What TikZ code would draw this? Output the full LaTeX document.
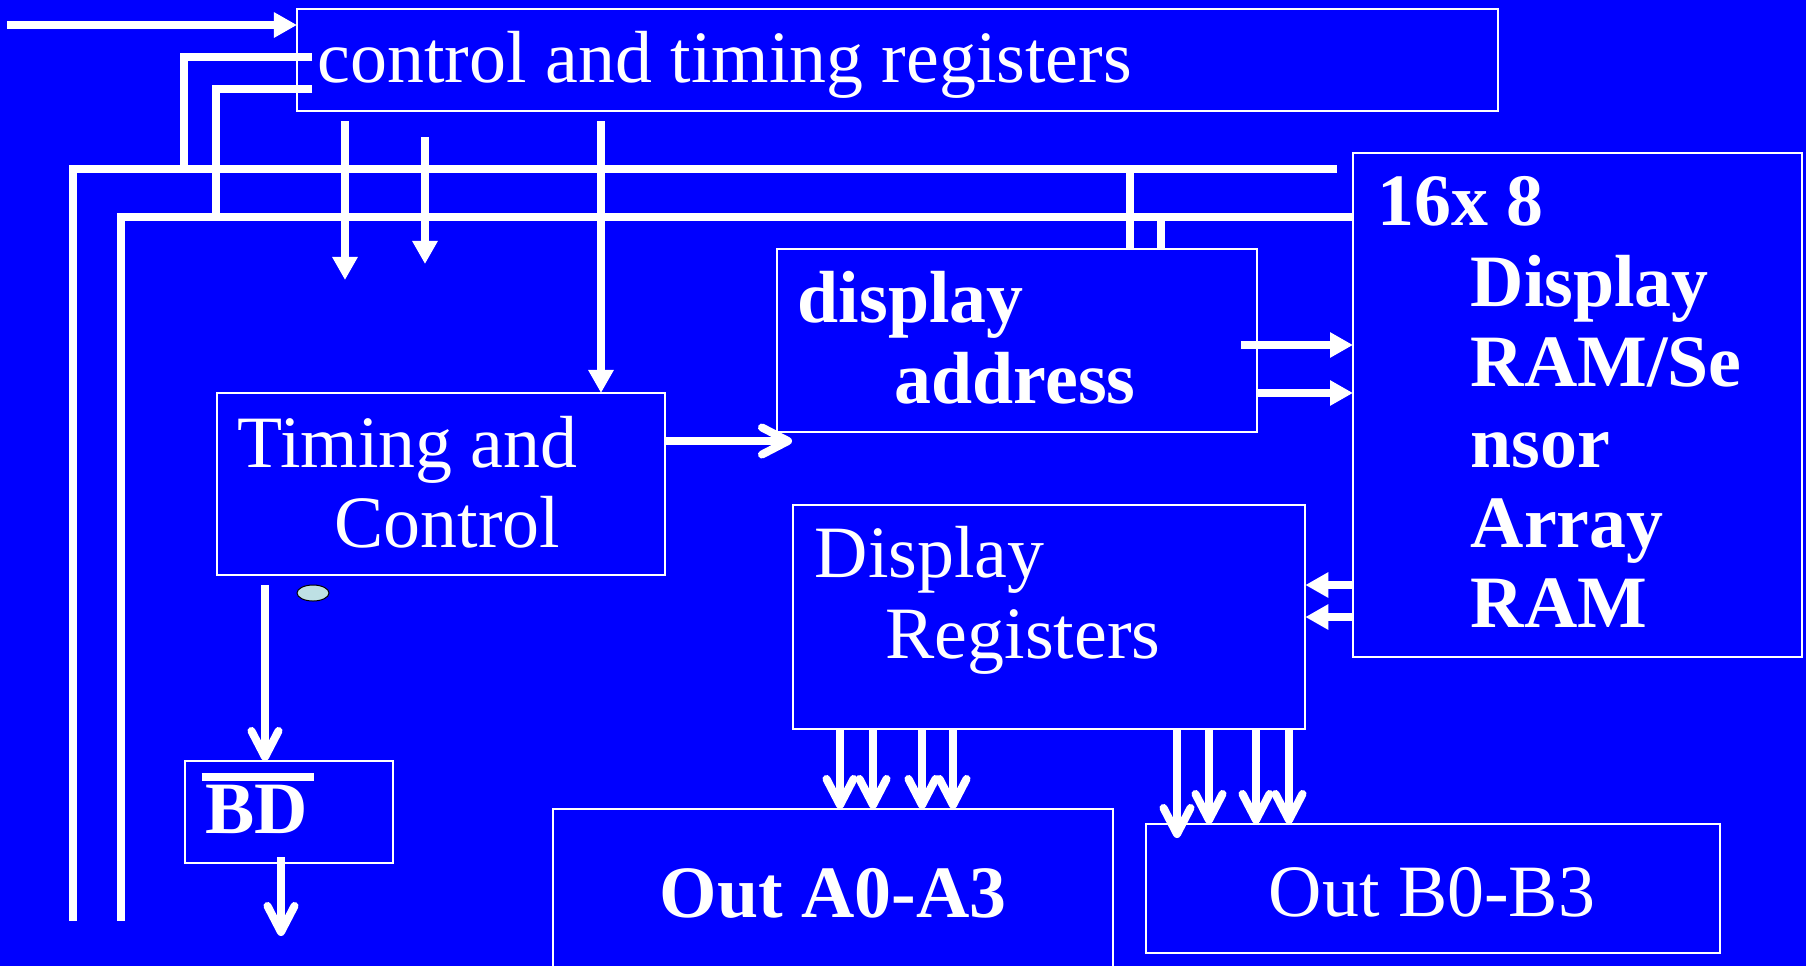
\documentclass[tikz,border=0pt]{standalone}
\usepackage{fontspec}
\setmainfont{Liberation Serif}
\usetikzlibrary{arrows.meta,shapes.geometric}
\definecolor{bg}{RGB}{0,0,255}
\definecolor{dotfill}{RGB}{190,224,228}
\begin{document}
\begin{tikzpicture}[x=0.01cm,y=-0.01cm,
  box/.style={draw=white,line width=0.02cm,rectangle,inner sep=0,outer sep=0,anchor=north west},
  lbl/.style={text=white,inner sep=0,anchor=base west,font=\fontsize{21}{23}\selectfont},
  blbl/.style={lbl,font=\fontsize{21}{23}\selectfont\bfseries},
  wire/.style={draw=white,line width=0.08cm,line cap=butt},
  tri/.style={wire,-{Triangle[length=0.23cm,width=0.24cm]}},
  barb/.style={wire,-{Straight Barb[length=0.26cm,width=0.27cm,round]}}]
\fill[bg] (0,0) rectangle (1806,966);
\useasboundingbox (0,0) rectangle (1806,966);
\clip (0,0) rectangle (1806,966);
% boxes
\node[box,minimum width=12cm,minimum height=1.02cm] (ctrl) at (297,9) {};
\node[box,minimum width=4.48cm,minimum height=1.82cm] (timing) at (217,393) {};
\node[box,minimum width=4.80cm,minimum height=1.83cm] (addr) at (777,249) {};
\node[box,minimum width=4.49cm,minimum height=5.04cm] (ram) at (1353,153) {};
\node[box,minimum width=5.12cm,minimum height=2.24cm] (dreg) at (793,505) {};
\node[box,minimum width=5.60cm,minimum height=2.00cm] (outa) at (553,809) {};
\node[box,minimum width=5.74cm,minimum height=1.29cm] (outb) at (1146,824) {};
\node[box,minimum width=2.08cm,minimum height=1.02cm] (bd) at (185,761) {};
% texts
\node[lbl] (tctrl) at (317,82) {control and timing registers};
\node[lbl] (ttim1) at (237,467) {Timing and};
\node[lbl] (ttim2) at (334,547) {Control};
\node[blbl] (tadr1) at (797,322) {display};
\node[blbl] (tadr2) at (894,403) {address};
\node[blbl] (tram1) at (1377,225) {16x 8};
\node[blbl] (tram2) at (1470,306) {Display};
\node[blbl] (tram3) at (1470,386) {RAM/Se};
\node[blbl] (tram4) at (1470,467) {nsor};
\node[blbl] (tram5) at (1470,547) {Array};
\node[blbl] (tram6) at (1470,627) {RAM};
\node[lbl] (treg1) at (814,577) {Display};
\node[lbl] (treg2) at (885,658) {Registers};
\node[blbl,anchor=base] (touta) at (833,917) {Out A0-A3};
\node[lbl,anchor=base] (toutb) at (1432,916) {Out B0-B3};
\node[blbl] (tbd) at (201,833) {\rlap{\rule[0.52cm]{1.12cm}{0.08cm}}\hspace*{0.04cm}BD};
% small ellipse
\node[ellipse,draw=black,fill=dotfill,line width=0.01cm,minimum width=0.32cm,minimum height=0.16cm,inner sep=0] (dot) at (313,593) {};
% input arrow
\coordinate (inL) at (7,25);
\draw[tri] (inL) -- (inL -| ctrl.west);
% buses
\draw[wire] (1337,169) -- (73,169) -- (73,921);
\draw[wire] (ram.west |- 0,217) -- (121,217) -- (121,921);
\draw[wire] (312,57) -- (184,57) -- (184,169);
\draw[wire] (312,89) -- (216,89) -- (216,217);
\draw[wire] (1130,169) -- (1130,0 |- addr.north);
\draw[wire] (1161,217) -- (1161,0 |- addr.north);
% arrows from control registers
\draw[tri] (345,121) -- (345,280);
\draw[tri] (425,137) -- (425,264);
\draw[tri] (601,121) -- (601,0 |- timing.north);
% timing -> address
\draw[barb] (timing.east |- 0,441) -- (792,441);
% address -> ram
\draw[tri] (1241,345) -- (ram.west |- 0,345);
\draw[tri] (addr.east |- 0,393) -- (ram.west |- 0,393);
% ram -> display registers
\draw[tri] (ram.west |- 0,585) -- (dreg.east |- 0,585);
\draw[tri] (ram.west |- 0,617) -- (dreg.east |- 0,617);
% display registers -> outputs
\foreach \x in {840,873,922,953} \draw[barb] (\x,0 |- dreg.south) -- (\x,0 |- outa.north);
\draw[barb] (1177,0 |- dreg.south) -- (1177,838);
\foreach \x in {1209,1256,1289} \draw[barb] (\x,0 |- dreg.south) -- (\x,0 |- outb.north);
% timing -> BD -> out
\draw[barb] (265,585) -- (265,0 |- bd.north);
\draw[barb] (281,857) -- (281,936);
\end{tikzpicture}
\end{document}
